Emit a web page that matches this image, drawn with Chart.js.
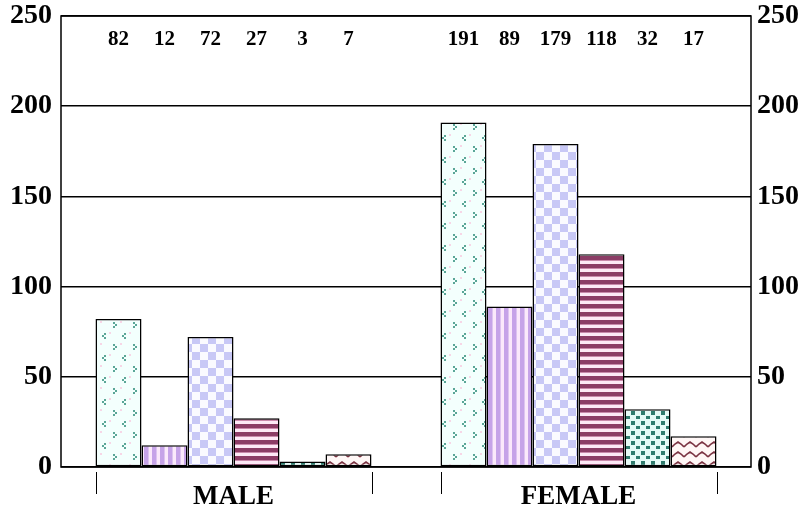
<!DOCTYPE html>
<html>
<head>
<meta charset="utf-8">
<script src="https://cdn.jsdelivr.net/npm/chart.js@4"></script>
<style>
  html, body { margin: 0; padding: 0; background: #fff; }
  #wrap { width: 804px; height: 508px; }
</style>
</head>
<body>
<div id="wrap"><canvas id="genderChart"></canvas></div>
<script>
// data
const categories = ["MALE", "FEMALE"];
const seriesA = [82, 191];
const seriesB = [12, 89];
const seriesC = [72, 179];
const seriesD = [27, 118];
const seriesE = [3, 32];
const seriesF = [7, 17];
const yTicks = [0, 50, 100, 150, 200, 250];

const FONT = "'Liberation Serif', 'Times New Roman', serif";

function makeTile(w, h, draw) {
  const c = document.createElement("canvas");
  c.width = w;
  c.height = h;
  const g = c.getContext("2d");
  draw(g);
  return g.createPattern(c, "repeat");
}

// trefoil dots on pale cyan
const patA = makeTile(20, 22, (g) => {
  g.fillStyle = "#f3fffd";
  g.fillRect(0, 0, 20, 22);
  g.fillStyle = "#f7d6e6";
  g.fillRect(9, 2, 2, 2);
  g.fillRect(0, 13, 2, 2);
  g.fillStyle = "#5aa697";
  // "<" shape
  g.fillRect(4, 3, 2, 2);
  g.fillRect(2, 5, 2, 2);
  g.fillRect(4, 7, 2, 2);
  // ">" shape
  g.fillRect(13, 14, 2, 2);
  g.fillRect(15, 16, 2, 2);
  g.fillRect(13, 18, 2, 2);
});

// vertical lavender stripes
const patB = makeTile(8, 8, (g) => {
  g.fillStyle = "#fbe9fb";
  g.fillRect(0, 0, 8, 8);
  g.fillStyle = "#c6a3e8";
  g.fillRect(0, 0, 4, 8);
  g.fillStyle = "#ddc4f0";
  g.fillRect(4, 0, 1, 8);
});

// checkerboard
const patC = makeTile(16, 16, (g) => {
  g.fillStyle = "#fafaff";
  g.fillRect(0, 0, 16, 16);
  g.fillStyle = "#c8c8f6";
  g.fillRect(0, 0, 8, 8);
  g.fillRect(8, 8, 8, 8);
});

// horizontal maroon stripes
const patD = makeTile(8, 8, (g) => {
  g.fillStyle = "#fde9f6";
  g.fillRect(0, 0, 8, 8);
  g.fillStyle = "#8c3d66";
  g.fillRect(0, 0, 8, 4);
  g.fillStyle = "#c98aab";
  g.fillRect(0, 4, 8, 1);
});

// teal squares, staggered
const patE = makeTile(10, 10, (g) => {
  g.fillStyle = "#e6fbf7";
  g.fillRect(0, 0, 10, 10);
  g.fillStyle = "#2f7c6e";
  g.fillRect(1, 1, 4, 4);
  g.fillRect(6, 6, 4, 3);
});

// wavy maroon lines
const patF = makeTile(12, 10, (g) => {
  g.fillStyle = "#fff7f6";
  g.fillRect(0, 0, 12, 10);
  g.strokeStyle = "#7b3342";
  g.lineWidth = 1.6;
  g.beginPath();
  g.moveTo(0, 7);
  g.lineTo(3, 4);
  g.lineTo(6, 2);
  g.lineTo(9, 4);
  g.lineTo(12, 7);
  g.stroke();
});

const seriesData = [seriesA, seriesB, seriesC, seriesD, seriesE, seriesF];
const patterns = [patA, patB, patC, patD, patE, patF];

// numbers printed along the top, one over each bar
const topValues = {
  id: "topValues",
  afterDatasetsDraw(chart) {
    const ctx = chart.ctx;
    ctx.save();
    ctx.font = "bold 21px " + FONT;
    ctx.fillStyle = "#000";
    ctx.textAlign = "center";
    ctx.textBaseline = "middle";
    chart.data.datasets.forEach((ds, i) => {
      chart.getDatasetMeta(i).data.forEach((bar, j) => {
        ctx.fillText(String(ds.data[j]), bar.x, 40);
      });
    });
    ctx.restore();
  }
};

// frame plus the short marks under each bar group
const frameTicks = {
  id: "frameTicks",
  afterDraw(chart) {
    const ctx = chart.ctx;
    const a = chart.chartArea;
    ctx.save();
    ctx.strokeStyle = "#000";
    ctx.lineWidth = 1.5;
    ctx.strokeRect(a.left, a.top, a.right - a.left, a.bottom - a.top);
    ctx.lineWidth = 1;
    const first = chart.getDatasetMeta(0).data;
    const last = chart.getDatasetMeta(chart.data.datasets.length - 1).data;
    first.forEach((bar, j) => {
      const l = Math.round(bar.x - bar.width / 2) + 0.5;
      const r = Math.round(last[j].x + last[j].width / 2) + 0.5;
      [l, r].forEach((x) => {
        ctx.beginPath();
        ctx.moveTo(x, a.bottom + 5);
        ctx.lineTo(x, a.bottom + 27);
        ctx.stroke();
      });
    });
    ctx.restore();
  }
};

const ctx = document.getElementById("genderChart").getContext("2d");
new Chart(ctx, {
  type: "bar",
  data: {
    labels: categories,
    datasets: seriesData.map((d, i) => ({
      label: "S" + (i + 1),
      data: d,
      backgroundColor: patterns[i],
      borderColor: "#000",
      borderWidth: 1.5,
      borderSkipped: false,
      categoryPercentage: 0.8,
      barPercentage: 1.0,
      yAxisID: "y"
    }))
  },
  options: {
    responsive: true,
    maintainAspectRatio: false,
    animation: false,
    layout: { padding: { top: 16, left: 0, right: 0, bottom: 0 } },
    plugins: {
      legend: { display: false },
      tooltip: { enabled: false }
    },
    scales: {
      x: {
        grid: { display: false, drawTicks: false },
        border: { display: false },
        ticks: {
          color: "#000",
          font: { family: FONT, size: 27, weight: "bold" },
          padding: 14
        },
        afterFit(scale) { scale.height = 41; }
      },
      y: {
        position: "left",
        min: 0,
        max: 250,
        afterBuildTicks(scale) { scale.ticks = yTicks.map((v) => ({ value: v })); },
        grid: { color: "#000", lineWidth: 1.5, drawTicks: false },
        border: { display: false },
        ticks: {
          color: "#000",
          padding: 9,
          font: { family: FONT, size: 28, weight: "bold", lineHeight: 0.5 }
        },
        afterFit(scale) { scale.width = 61; }
      },
      y2: {
        position: "right",
        min: 0,
        max: 250,
        afterBuildTicks(scale) { scale.ticks = yTicks.map((v) => ({ value: v })); },
        grid: { display: false, drawTicks: false },
        border: { display: false },
        ticks: {
          color: "#000",
          padding: 6,
          font: { family: FONT, size: 28, weight: "bold", lineHeight: 0.5 }
        },
        afterFit(scale) { scale.width = 53; }
      }
    }
  },
  plugins: [topValues, frameTicks]
});
</script>
</body>
</html>
